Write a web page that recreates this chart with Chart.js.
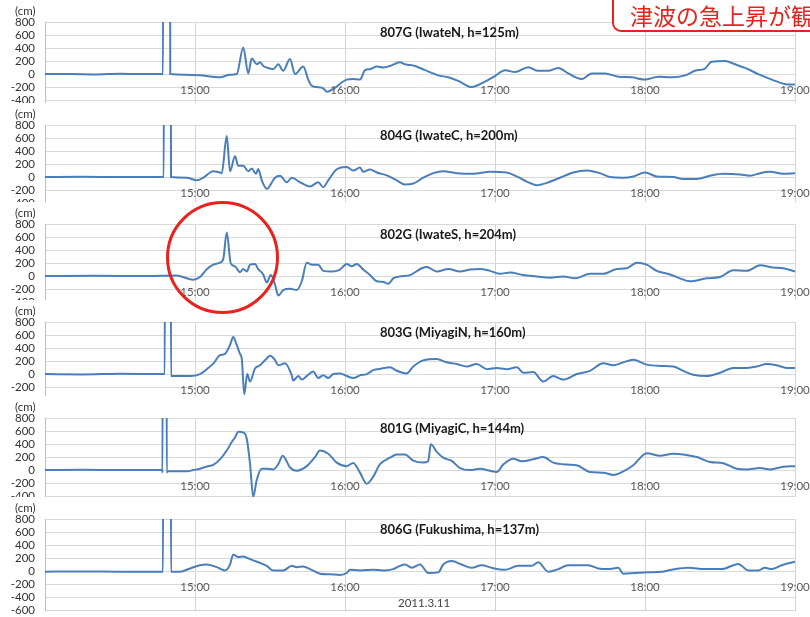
<!DOCTYPE html>
<html>
<head>
<meta charset="utf-8">
<script src="https://cdn.jsdelivr.net/npm/chart.js"></script>
<style>
  body { margin: 0; width: 810px; height: 617px; overflow: hidden; background: #fff; position: relative; font-family: Lato, 'Liberation Sans', sans-serif; }
  .panel { position: absolute; left: 0; width: 810px; background: #fff; overflow: hidden; }
  .panel canvas { position: absolute; left: 0; top: 0; }
  .unit { position: absolute; left: 15px; top: 4px; font-size: 11.5px; color: #333; }
  .name { position: absolute; left: 380px; top: 24px; font-size: 13px; font-weight: bold; color: #1a1a1a; white-space: nowrap; }
  .hour { position: absolute; font-size: 11.5px; line-height: 13px; color: #595959; transform: translateX(-50%); white-space: nowrap; }
  .date { position: absolute; left: 398px; top: 596px; font-size: 11.5px; color: #444; }
  .note { position: absolute; left: 612px; top: -12px; width: 240px; height: 44px; box-sizing: border-box;
          border: 2px solid #e8231d; border-radius: 9px; background: #fff; color: #e8231d;
          font-family: 'Noto Sans CJK JP', sans-serif; font-size: 23px; line-height: 23px; padding: 14px 0 0 16px; white-space: nowrap; }
  .circle { position: absolute; left: 166px; top: 201px; width: 113px; height: 113px; box-sizing: border-box;
            border: 3px solid #e8231d; border-radius: 50%; }
</style>
</head>
<body>
<script>
// minutes after 14:00 and wave height (cm) for each GPS buoy

const names = ['807G (IwateN, h=125m)', '804G (IwateC, h=200m)', '802G (IwateS, h=204m)',
  '803G (MiyagiN, h=160m)', '801G (MiyagiC, h=144m)', '806G (Fukushima, h=137m)'];

const t807 = [0,10,20,30,40,47.2,47.3,50,50.1,56,62,70,74,76.7,79.3,81.3,82.7,84.7,86,87.3,88.7,91.3,93.3,95.3,98,100,103.3,105.3,106.7,108.7,111.3,112.7,115.3,120.7,123.3,126,128,130,132.7,135.3,138,142,144,148,152,157.3,161.3,165.3,170.7,176,180,184,188,193.3,197.3,201.3,205.3,209.3,214.7,218.7,224,229.3,234.7,240,245.3,250.7,256,260,264,266.7,272,276,280,285.3,290.7,297.3,300];
const v807 = [0,0,-5,5,0,0,3000,3000,0,-10,-20,-50,-10,0,410,10,240,150,180,125,100,75,150,50,230,0,115,-85,-180,-200,-220,-270,-230,-85,-75,-85,60,75,115,100,125,180,150,125,60,-20,-50,-105,-200,-115,-30,60,30,105,50,50,95,10,-75,10,10,-40,-50,-85,-40,-50,-20,50,85,190,200,150,95,0,-85,-160,-160];

const t804 = [0,15,30,47.5,47.6,50.3,50.4,56.7,60.7,63.3,67.3,70,70.7,72.7,74,76,77.3,79.3,81.3,82.7,84.4,85.3,86.7,88.7,92,94,96.7,98.7,102,106,109.3,111.3,113.3,116.7,120.7,123.3,126,127.3,130,132.7,136.7,140.7,144,147.3,151.3,155.3,159.3,164.7,171.3,178,184.7,188.7,192.7,196.7,200.7,206,211.3,216.7,222,226,231.3,235.3,240,244.7,251.3,255.3,260.7,266,271.3,278,282,286,290,295.3,300];
const v804 = [0,5,0,0,3000,3000,0,-10,-50,-10,90,70,60,630,90,320,175,175,90,130,50,125,-50,-180,-10,20,-80,-10,-80,-145,-80,-155,-50,120,155,100,145,80,115,70,25,-50,-115,-100,-10,60,90,60,50,80,70,10,-70,-125,-90,-10,70,100,60,0,-10,10,70,10,0,-30,-30,20,50,40,20,60,80,50,60];

const t802 = [0,20,40,52.7,56.7,59.3,62,64.7,67.3,70,71.3,72.7,74.3,76,78,79.3,80.7,82,84,85.3,87.3,88.7,90.3,92,93.3,95.3,98,100.7,102.7,104.7,106.7,109.3,111.3,114.7,118,120.7,122.7,124.7,127.3,130,132.7,135.3,137.3,139.3,142,146,150.7,152.7,156.7,161.3,166,170,174,178,182,186,191.3,196.7,202,207.3,212,218,223.3,228.7,232.7,236.7,240.7,244.7,250,254,258,264.7,270,275.3,280.7,286,291.3,295.3,300];
const v802 = [0,5,0,10,-35,-55,-15,105,175,205,260,670,195,150,60,110,70,175,185,105,25,-100,15,-130,-300,-215,-195,-215,-80,205,175,175,80,70,100,185,150,185,100,15,-80,-90,-120,-35,-5,15,120,140,70,110,70,100,110,80,35,55,15,-5,-25,-5,-35,35,35,110,120,205,175,80,25,-35,-80,-35,-15,90,80,165,130,120,70];

const t803 = [0,15,30,47.9,48,50.3,50.4,58,62,64.7,67.3,70,72,74,75.3,76.7,78,78.7,79.7,80.9,82,84,86,88.7,90,92,93.3,96,98.7,99.3,101.3,102.7,105.3,107.3,109.3,111.3,113.3,115.3,118,120.7,123.3,126,128.7,131.3,134.7,138,140.7,144.7,147.3,151.3,156.7,160.7,164.7,168.7,172.7,176.7,180.7,184.7,188.7,191.3,195.3,199.3,203.3,207.3,212.7,218,223.3,227.3,231.3,235.3,240.7,246,251.3,255.3,259.3,264.7,270,275.3,280.7,284.7,288.7,292.7,296.7,300];
const v803 = [0,-5,5,0,3000,3000,-30,-30,0,75,160,290,310,445,570,445,310,240,-310,0,-115,85,135,240,280,215,135,165,-20,-100,-30,-85,-10,40,-60,-20,-60,0,10,-30,-60,-20,0,60,85,105,50,10,115,210,230,180,155,115,155,75,95,75,105,20,30,-115,-30,-85,0,50,165,135,180,220,145,125,115,50,-10,-30,20,95,95,115,155,135,95,95];

const t801 = [0,15,30,46.9,47,47.1,48.6,48.7,49,56.7,59.3,62,64.7,67.3,70,72.7,74.7,76,77.3,79.3,80.7,82,83.3,84.7,86.7,88.7,91.3,93.3,95.1,98,100.7,104.7,108,110,113.3,116.7,120.7,123.3,126,128.7,131.3,134,138,140.7,144,147.3,151.3,153.3,154.3,156.7,159.3,162.7,166,170,174,178,180.7,183.3,187.3,190.7,195.3,199.3,203.3,208.7,212.7,218,223.3,227.3,231.3,235.3,240.7,246,251.3,255.3,260.7,266,271.3,276.7,280.7,286,290,295.3,300];
const v801 = [0,5,0,0,-40,3000,3000,-40,-20,-20,0,20,55,80,165,300,430,500,590,580,480,100,-410,-150,20,20,10,90,220,40,-10,60,200,300,250,115,60,110,-40,-210,-100,90,190,240,240,145,115,140,395,280,190,140,30,0,20,-10,-30,85,175,135,165,200,115,85,75,-30,-40,-75,-20,75,260,220,250,240,200,125,105,20,10,30,10,50,60];

const t806 = [0,15,30,47.2,47.3,50.3,50.4,54,58,62,64.7,68.7,72,74,75.3,77.3,79.3,81.3,83.3,86,88.7,91.3,95.3,98.7,100.7,103.3,106,110,114,118,120.7,122,126,131.3,135.3,139.3,142,144,146.7,150,153.3,157.3,159.3,162.7,166.7,170.7,174.7,178.7,184,189.3,194.7,197.3,201.3,205.3,209.3,213.3,217.3,221.3,225.3,229.3,231.3,236,241.3,246.7,250.7,257.3,264,270.7,277.3,281.3,285.3,288,290.7,294.7,300];
const v806 = [-10,-5,-10,-10,3000,3000,-10,-10,40,90,100,60,10,100,255,215,225,195,165,125,80,10,10,80,60,70,30,-40,-50,-60,-30,20,10,20,10,30,80,100,50,100,-30,-20,100,155,100,50,90,50,20,80,80,135,-10,30,90,90,90,40,30,50,-40,-30,-20,-10,20,50,30,30,110,10,10,50,30,90,145];

const times = [t807, t804, t802, t803, t801, t806];
const heights = [v807, v804, v802, v803, v801, v806];

const yMin = -600, yMax = 800, yStep = 200;
const hourTicks = 60;
const hourLabelAt = -100;   // time labels sit just under this level, like the Excel sheet

// y pixel of the 800 line of each panel, plot height for -600..800
const panelTops = [22, 125, 224, 322, 418, 519];
const plotH = 91;

function makeConfig(points) {
  return {
    type: 'line',
    data: {
      datasets: [{
        data: points,
        borderColor: '#4a7ebb',
        borderWidth: 2,
        pointRadius: 0,
        cubicInterpolationMode: 'monotone',
        clip: 0
      }]
    },
    options: {
      responsive: false,
      maintainAspectRatio: false,
      animation: false,
      devicePixelRatio: 1,
      layout: { autoPadding: false, padding: { top: 22, right: 15, bottom: 8, left: 0 } },
      plugins: { legend: { display: false }, tooltip: { enabled: false } },
      scales: {
        x: {
          type: 'linear', min: 0, max: 300,
          grid: { color: '#d4d4d4', drawTicks: false },
          border: { color: '#d4d4d4' },
          ticks: { stepSize: hourTicks, display: false }
        },
        y: {
          min: yMin, max: yMax,
          afterFit: s => { s.width = 45 },
          grid: { color: '#d9d9d9', drawTicks: false },
          border: { color: '#bfbfbf' },
          ticks: { stepSize: yStep, autoSkip: false, padding: 10, color: '#333', font: { family: 'Lato', size: 11.5 } }
        }
      }
    }
  };
}

names.forEach(function (name, i) {
  const last = i === names.length - 1;
  const top = panelTops[i] - 22;
  const h = last ? 617 - top : 117;

  const wrap = document.createElement('div');
  wrap.className = 'panel';
  wrap.style.top = top + 'px';
  wrap.style.height = h + 'px';
  wrap.innerHTML = '<div class="unit">(cm)</div><div class="name">' + name + '</div>';
  document.body.appendChild(wrap);

  const points = times[i].map((x, k) => ({ x: x, y: heights[i][k] }));

  function build(ch) {
    wrap.querySelectorAll('canvas').forEach(c => c.remove());
    const cv = document.createElement('canvas');
    cv.width = 810;
    cv.height = ch;
    wrap.insertBefore(cv, wrap.firstChild);
    return new Chart(cv, makeConfig(points));
  }

  // the axes keep some room under the plot; grow the canvas (the panel clips it)
  // until the -600 line lands where the sheet has it
  let ch = 22 + plotH + 8;
  let chart = build(ch);
  for (let k = 0; k < 4; k++) {
    const gap = 22 + plotH - chart.chartArea.bottom;
    if (Math.abs(gap) < 0.5) break;
    chart.destroy();
    ch = Math.round(ch + gap);
    chart = build(ch);
  }

  // hour labels inside the plot, placed with the chart's own scales
  const xs = chart.scales.x, ys = chart.scales.y;
  xs.ticks.forEach(tk => {
    if (tk.value === 0) return;
    const lab = document.createElement('div');
    lab.className = 'hour';
    lab.textContent = (14 + tk.value / 60) + ':00';
    lab.style.left = xs.getPixelForValue(tk.value) + 'px';
    lab.style.top = (ys.getPixelForValue(hourLabelAt) + 2) + 'px';
    wrap.appendChild(lab);
  });
});

const date = document.createElement('div');
date.className = 'date';
date.textContent = '2011.3.11';
document.body.appendChild(date);

const note = document.createElement('div');
note.className = 'note';
note.textContent = '津波の急上昇が観';
document.body.appendChild(note);

const circle = document.createElement('div');
circle.className = 'circle';
document.body.appendChild(circle);
</script>
</body>
</html>
